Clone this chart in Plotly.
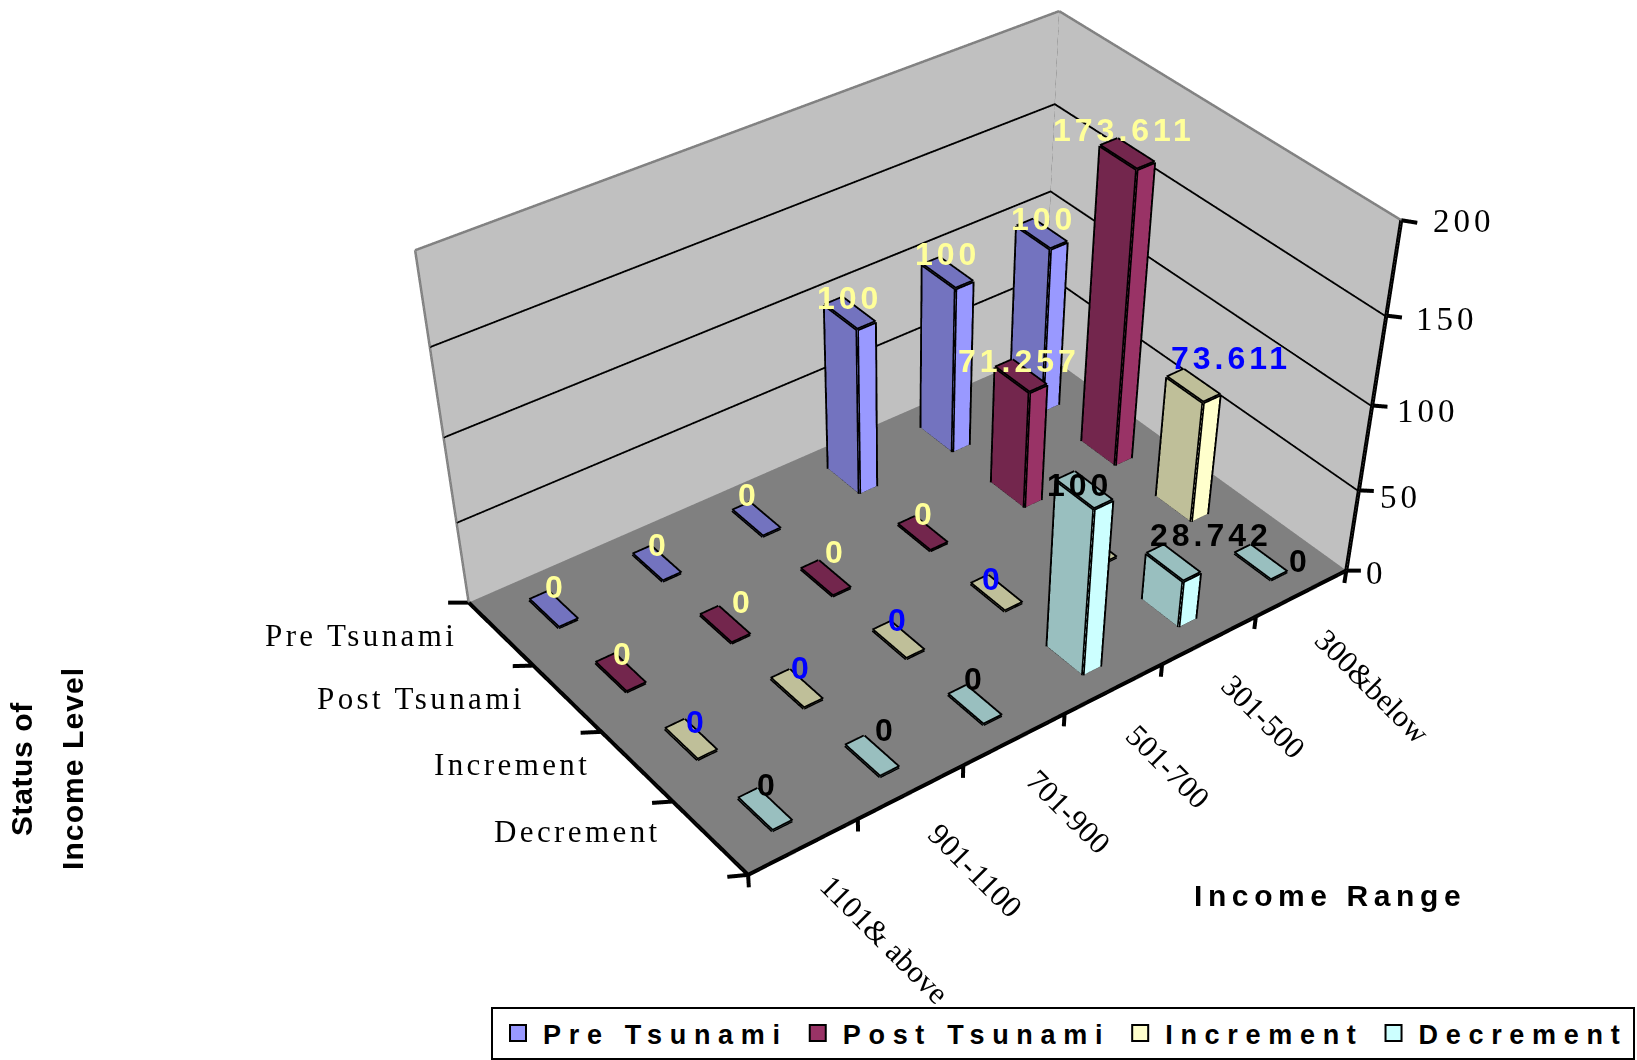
import plotly.graph_objects as go

income = ["1101& above", "901-1100", "701-900", "501-700", "301-500", "300&below"]
series_names = ["Decrement", "Increment", "Post Tsunami", "Pre Tsunami"]
pre = [0, 0, 0, 100, 100, 100]
post = [0, 0, 0, 0, 71.257, 173.611]
increment = [0, 0, 0, 0, 0, 73.611]
decrement = [0, 0, 0, 100, 28.742, 0]
z_ticks = [0, 50, 100, 150, 200]
values = {"Pre Tsunami": pre, "Post Tsunami": post, "Increment": increment, "Decrement": decrement}
colors = {"Pre Tsunami": ("#9999FF", "#7373BF", "#FFFF99"), "Post Tsunami": ("#993366", "#73264D", "#FFFF99"),
          "Increment": ("#FFFFCC", "#BFBF99", "#0000FF"), "Decrement": ("#CCFFFF", "#99BFBF", "#000000")}

# The page is larger than the window so that the perspective (fixed 45 degree fov) matches the picture.
Wp, Hp = 1828, 2200
EYE = (-1.76466, -2.31764, 1.99735)
CENTER = (-0.34662, -0.46735, -0.66354)
UP = (0.03664, 0.05582, 1.0)
AX, AY, AZ = 1.0, 0.66167, 0.53002
WX, WY = 0.18, 0.45

# label nudges in pixels (dx, dy with dy down), from the reference
label_nudge = {("Pre Tsunami", 0): (2, -3), ("Pre Tsunami", 1): (2, 1), ("Pre Tsunami", 2): (-7, -5),
               ("Pre Tsunami", 3): (0, 4), ("Pre Tsunami", 4): (0, 1), ("Pre Tsunami", 5): (2, 5),
               ("Post Tsunami", 0): (3, 1), ("Post Tsunami", 1): (18, -3), ("Post Tsunami", 2): (10, -6),
               ("Post Tsunami", 3): (2, 0), ("Post Tsunami", 4): (-2, 5), ("Post Tsunami", 5): (-3, -4),
               ("Increment", 0): (6, 2), ("Increment", 1): (5, -1), ("Increment", 2): (1, 0),
               ("Increment", 3): (-3, 6), ("Increment", 5): (38, -8),
               ("Decrement", 0): (3, -5), ("Decrement", 1): (14, -6), ("Decrement", 2): (0, -6),
               ("Decrement", 3): (-5, 15), ("Decrement", 4): (38, -8), ("Decrement", 5): (39, 18)}
income_nudge = [(6, -2), (-11, -16), (-21, -23), (-21, -17), (-21, -19), (-4, -2)]
series_nudge = [(5, -6), (7, -2), (12, 0), (10, 2)]
z_nudge = [(-5, 2), (-4, 7), (0, 5), (5, 3), (7, 1)]

fig = go.Figure()

def quad_mesh(quads, cols):
    xs, ys, zs, i, j, k, fc = [], [], [], [], [], [], []
    for q, c in zip(quads, cols):
        n = len(xs)
        for v in q:
            xs.append(v[0]); ys.append(v[1]); zs.append(v[2])
        i += [n, n]; j += [n + 1, n + 2]; k += [n + 2, n + 3]; fc += [c, c]
    fig.add_trace(go.Mesh3d(x=xs, y=ys, z=zs, i=i, j=j, k=k, facecolor=fc, flatshading=True,
                            lighting=dict(ambient=1, diffuse=0, specular=0, fresnel=0, roughness=1),
                            hoverinfo="skip", showlegend=False))

def lines(segs, color, width):
    xs, ys, zs = [], [], []
    for a, b in segs:
        xs += [a[0], b[0], None]; ys += [a[1], b[1], None]; zs += [a[2], b[2], None]
    fig.add_trace(go.Scatter3d(x=xs, y=ys, z=zs, mode="lines", line=dict(color=color, width=width),
                               hoverinfo="skip", showlegend=False))

TOP = z_ticks[-1]
NX, NY = len(income), len(series_names)
quad_mesh([[(0, 0, 0), (NX, 0, 0), (NX, NY, 0), (0, NY, 0)]], ["#808080"])
quad_mesh([[(0, NY, 0), (NX, NY, 0), (NX, NY, TOP), (0, NY, TOP)],
           [(NX, NY, 0), (NX, 0, 0), (NX, 0, TOP), (NX, NY, TOP)]], ["#C0C0C0", "#C0C0C0"])

bar_segs = []
for row, name in enumerate(series_names):
    light, dark, _ = colors[name]
    quads, cols = [], []
    for col, v in enumerate(values[name]):
        x0, x1 = col + .5 - WX / 2, col + .5 + WX / 2
        y0, y1 = row + .5 - WY / 2, row + .5 + WY / 2
        h = max(v, 0.4)
        quads += [[(x0, y0, 0), (x1, y0, 0), (x1, y0, h), (x0, y0, h)],
                  [(x0, y0, 0), (x0, y1, 0), (x0, y1, h), (x0, y0, h)],
                  [(x0, y0, h), (x1, y0, h), (x1, y1, h), (x0, y1, h)]]
        cols += [light, dark, dark]
        t = [(x0, y0, h), (x1, y0, h), (x1, y1, h), (x0, y1, h)]
        bar_segs += [(t[m], t[(m + 1) % 4]) for m in range(4)]
        if v > 0:
            bar_segs += [((x0, y0, 0), (x0, y0, h)), ((x1, y0, 0), (x1, y0, h)), ((x0, y1, 0), (x0, y1, h)),
                         ((x0, y0, 0), (x1, y0, 0)), ((x0, y0, 0), (x0, y1, 0))]
    quad_mesh(quads, cols)
lines(bar_segs, "#000000", 7)
lines([((0, NY, z), (NX, NY, z)) for z in z_ticks[1:-1]] + [((NX, NY, z), (NX, 0, z)) for z in z_ticks[1:-1]], "#000000", 7)
lines([((0, NY, 0), (0, NY, TOP)), ((NX, NY, 0), (NX, NY, TOP)), ((0, NY, TOP), (NX, NY, TOP)),
       ((NX, NY, TOP), (NX, 0, TOP)), ((0, NY, 0), (NX, NY, 0)), ((NX, NY, 0), (NX, 0, 0))], "#808080", 5)
ticks = [((i, 0, 0), (i, 0, -8)) for i in range(NX + 1)] + [((0, j, 0), (-0.18, j, 5.3)) for j in range(NY + 1)] + \
        [((NX, 0, z), (NX + .18, 0, z - 5.3)) for z in z_ticks]
lines([((0, 0, 0), (NX, 0, 0)), ((0, 0, 0), (0, NY, 0)), ((NX, 0, 0), (NX, 0, TOP))] + ticks, "#000000", 8)

def sp(s, t):
    return f'<span style="letter-spacing:{s}px">{t}</span>'

ann = []
for row, name in enumerate(series_names):
    for col, v in enumerate(values[name]):
        if name == "Increment" and col == 4:   # hidden behind the tall Decrement bar
            continue
        dx, dy = label_nudge.get((name, col), (0, 0))
        ann.append(dict(x=col + .5, y=row + .5, z=max(v, 0.4), text=sp(4, f"{v:g}"), showarrow=False,
                        xanchor="center", yanchor="middle", xshift=dx, yshift=20 - dy,
                        font=dict(family="Liberation Sans", size=32, color=colors[name][2], weight="bold")))
for col, t in enumerate(income):
    dx, dy = income_nudge[col]
    ann.append(dict(x=col + .5, y=0, z=0, text=sp(0, t), showarrow=False, textangle=45, xshift=75 + dx, yshift=-95 - dy,
                    font=dict(family="Liberation Serif", size=31, color="#000")))
for row, t in enumerate(series_names):
    dx, dy = series_nudge[row]
    ann.append(dict(x=0, y=row + .5, z=0, text=sp(3.4, t), showarrow=False, xanchor="right", xshift=-52 + dx, yshift=-dy,
                    font=dict(family="Liberation Serif", size=31, color="#000")))
for n, z in enumerate(z_ticks):
    dx, dy = z_nudge[n]
    ann.append(dict(x=NX, y=0, z=z, text=sp(4, str(z)), showarrow=False, xanchor="left", xshift=23 + dx, yshift=-dy,
                    font=dict(family="Liberation Serif", size=33, color="#000")))

for name in ["Pre Tsunami", "Post Tsunami", "Increment", "Decrement"]:
    fig.add_trace(go.Scatter3d(x=[None], y=[None], z=[None], mode="markers", name=sp(7.7, name),
                               marker=dict(symbol="square", size=16, color=colors[name][0], line=dict(color="#000", width=2)),
                               showlegend=True))

fnt = dict(family="Liberation Sans", size=30, color="#000", weight="bold")
fig.update_layout(
    width=Wp, height=Hp, autosize=False, margin=dict(l=0, r=0, t=0, b=0), paper_bgcolor="white",
    scene=dict(domain=dict(x=[0, 1], y=[0, 1]), aspectmode="manual",
               aspectratio=dict(x=AX * 7 / 6, y=AY * 5 / 4, z=AZ * 220 / 200),
               xaxis=dict(visible=False, range=[-.5, 6.5]), yaxis=dict(visible=False, range=[-.5, 4.5]),
               zaxis=dict(visible=False, range=[-10, 210]),
               camera=dict(eye=dict(x=EYE[0], y=EYE[1], z=EYE[2]), center=dict(x=CENTER[0], y=CENTER[1], z=CENTER[2]),
                           up=dict(x=UP[0], y=UP[1], z=UP[2]), projection=dict(type="perspective")),
               annotations=ann),
    legend=dict(orientation="h", x=491 / Wp, y=1 - 1007 / Hp, xanchor="left", yanchor="top", bgcolor="white",
                bordercolor="#000", borderwidth=2, itemwidth=40,
                font=dict(family="Liberation Sans", size=27, color="#000", weight="bold")),
    annotations=[
        dict(xref="paper", yref="paper", x=1330 / Wp, y=1 - 896 / Hp, xanchor="center", yanchor="middle",
             text=sp(5.6, "Income Range"), showarrow=False, font=fnt),
        dict(xref="paper", yref="paper", x=21 / Wp, y=1 - 769 / Hp, xanchor="center", yanchor="middle",
             text=sp(0.6, "Status of"), textangle=-90, showarrow=False, font=fnt),
        dict(xref="paper", yref="paper", x=72 / Wp, y=1 - 769 / Hp, xanchor="center", yanchor="middle",
             text=sp(1.1, "Income Level"), textangle=-90, showarrow=False, font=fnt)])
fig.write_html("out.html", config={"displayModeBar": False}, post_script="document.body.style.margin='0';")
